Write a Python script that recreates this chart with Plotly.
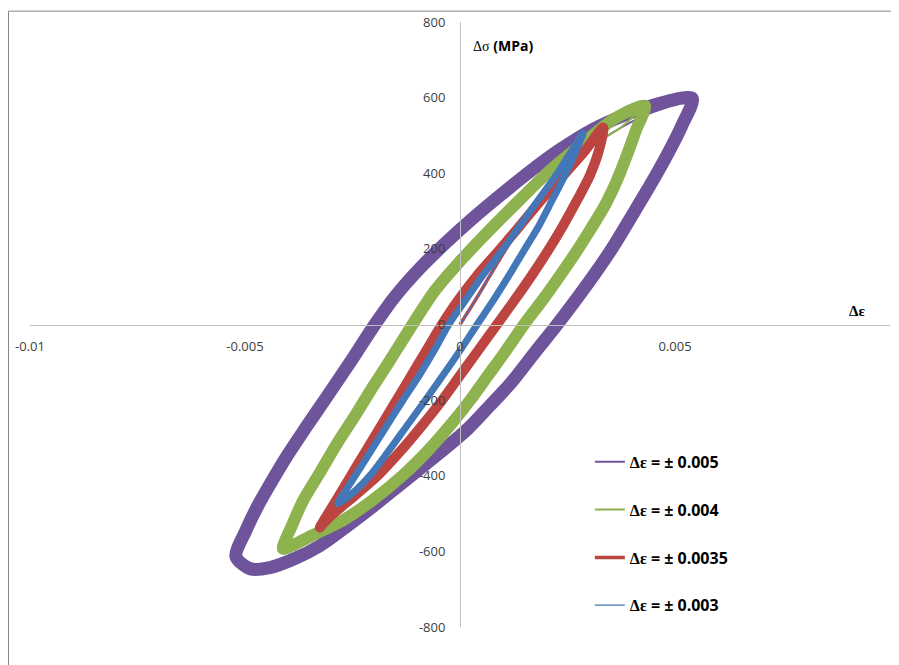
import plotly.graph_objects as go

# ---------------- data (strain, stress in MPa) ----------------
series_names = ["Δε = ± 0.005", "Δε = ± 0.004", "Δε = ± 0.0035", "Δε = ± 0.003"]
series_colors = ["#6F549B", "#8DB24E", "#BC4542", "#4377B8"]

# first (monotonic) loading curve from the origin
initial_strain = [0, 0.00035, 0.00070, 0.00105, 0.00140, 0.00174, 0.00209, 0.00244,
                  0.00286, 0.00326, 0.00372, 0.00430, 0.00488, 0.00535]
initial_stress = [0, 63, 130, 196, 259, 317, 370, 413, 455, 487, 519, 553, 577, 593]

# stabilised loops: ascending branch (bottom tip -> top tip) then descending branch back
loop_005_strain = [-0.00521, -0.00498, -0.00470, -0.00437, -0.00402, -0.00360, -0.00309, -0.00256,
                   -0.00198, -0.00151, -0.00093, -0.00035, 0.00023, 0.00093, 0.00163, 0.00233,
                   0.00309, 0.00388, 0.00465, 0.00540,
                   0.00516, 0.00481, 0.00442, 0.00400, 0.00358, 0.00316, 0.00272, 0.00226, 0.00174,
                   0.00121, 0.00070, 0.00019, -0.00035, -0.00093, -0.00151, -0.00209, -0.00267,
                   -0.00326, -0.00384, -0.00442, -0.00488, -0.00521]
loop_005_stress = [-614, -545, -479, -413, -347, -275, -190, -101,
                   0, 74, 149, 214, 274, 341, 405, 463,
                   516, 556, 585, 598,
                   526, 447, 368, 288, 209, 138, 69, 0, -74,
                   -151, -214, -275, -328, -381, -434, -487, -537,
                   -585, -619, -643, -646, -614]

loop_004_strain = [-0.00412, -0.00391, -0.00365, -0.00326, -0.00286, -0.00244, -0.00205, -0.00163,
                   -0.00121, -0.00058, 0.0, 0.00063, 0.00133, 0.00209, 0.00291, 0.00360, 0.00430,
                   0.00409, 0.00388, 0.00365, 0.00337, 0.00302, 0.00265, 0.00233, 0.00191, 0.00149,
                   0.00107, 0.00065, 0.00023, -0.00023, -0.00074, -0.00133, -0.00205, -0.00274,
                   -0.00344, -0.00391, -0.00412]
loop_004_stress = [-593, -532, -466, -392, -315, -241, -169, -95,
                   -19, 90, 167, 243, 323, 407, 484, 545, 579,
                   513, 447, 381, 315, 249, 183, 130, 63, 0,
                   -69, -135, -201, -267, -333, -399, -466, -519,
                   -558, -585, -593]

loop_0035_strain = [-0.00326, -0.00284, -0.00242, -0.00200, -0.00158, -0.00116, -0.00077, -0.00042,
                    -0.00005, 0.00040, 0.00091, 0.00140, 0.00188, 0.00240, 0.00291, 0.00333,
                    0.00323, 0.00302, 0.00272, 0.00240, 0.00205, 0.00167, 0.00126, 0.00086, 0.00042,
                    0.0, -0.00042, -0.00088, -0.00137, -0.00191, -0.00244, -0.00286, -0.00312,
                    -0.00326]
loop_0035_stress = [-537, -458, -378, -299, -220, -140, -66, 0,
                    63, 130, 196, 262, 328, 394, 460, 521,
                    460, 394, 328, 262, 196, 130, 63, 0, -69,
                    -135, -201, -267, -333, -399, -452, -492, -519,
                    -537]

loop_003_strain = [-0.00284, -0.00251, -0.00214, -0.00177, -0.00133, -0.00095, -0.00060, -0.00026,
                   0.00012, 0.00053, 0.00098, 0.00140, 0.00181, 0.00223, 0.00260, 0.00286,
                   0.00270, 0.00244, 0.00214, 0.00184, 0.00149, 0.00114, 0.00077, 0.00040, 0.0,
                   -0.00040, -0.00081, -0.00123, -0.00165, -0.00209, -0.00256, -0.00284]
loop_003_stress = [-474, -413, -347, -280, -201, -135, -69, 0,
                   63, 130, 196, 262, 328, 394, 460, 505,
                   460, 394, 328, 262, 196, 130, 63, 0, -69,
                   -135, -201, -267, -333, -399, -452, -474]

loops_strain = [loop_005_strain, loop_004_strain, loop_0035_strain, loop_003_strain]
loops_stress = [loop_005_stress, loop_004_stress, loop_0035_stress, loop_003_stress]

x_tickvals = [-0.01, -0.005, 0, 0.005, 0.01]
x_ticktext = ["-0.01", "-0.005", "0", "0.005", "0.01"]
y_tickvals = [-800, -600, -400, -200, 0, 200, 400, 600, 800]
y_ticktext = ["-800", "-600", "-400", "-200", "0", "200", "400", "600", "800"]

# ---------------- styles ----------------
loop_widths = [13, 12, 10, 7]
legend_widths = [2, 2, 3.5, 1.2]
FONT = "Open Sans"
GREEK = "Liberation Serif"

fig = go.Figure()

for i in range(4):
    amp = max(loops_strain[i])
    tip_idx = loops_strain[i].index(amp)
    keep = [k for k, s in enumerate(initial_strain) if s < amp - 1e-4]
    xs = [initial_strain[k] for k in keep] + [amp]
    ys = [initial_stress[k] for k in keep] + [loops_stress[i][tip_idx]]
    # stabilised cycles (thick band)
    fig.add_trace(go.Scatter(
        x=loops_strain[i], y=loops_stress[i], mode="lines",
        line=dict(color=series_colors[i], width=loop_widths[i], shape="spline", smoothing=0.8),
        legendgroup=f"g{i}", showlegend=False, hoverinfo="skip"))
    # first loading (thin) - carries the legend entry
    fig.add_trace(go.Scatter(
        x=xs, y=ys, mode="lines",
        line=dict(color=series_colors[i], width=legend_widths[i], shape="spline", smoothing=0.8),
        name=series_names[i].replace("Δε", f"<span style='font-family:{GREEK}'>Δε</span>"),
        legendgroup=f"g{i}", showlegend=True, hoverinfo="skip"))

axis_common = dict(showgrid=False, zeroline=False, showline=True, linecolor="#bfbfbf",
                   linewidth=1, ticks="", automargin=False,
                   tickfont=dict(family=FONT, size=13, color="#404040"))

fig.update_layout(
    width=891, height=657,
    margin=dict(l=22, r=9, t=14, b=38),
    paper_bgcolor="white", plot_bgcolor="white",
    xaxis=dict(range=[-0.01, 0.01], tickvals=x_tickvals, ticktext=x_ticktext,
               anchor="free", position=0.5, ticklabelstandoff=10, **axis_common),
    yaxis=dict(range=[-800, 800], tickvals=y_tickvals, ticktext=y_ticktext,
               anchor="free", position=0.5, ticklabelstandoff=12, **axis_common),
    legend=dict(x=0.651, y=0.301, xanchor="left", yanchor="top",
                font=dict(family=FONT, size=16, color="black", weight="bold"),
                tracegroupgap=24, bgcolor="rgba(0,0,0,0)"),
    showlegend=True,
    shapes=[dict(type="rect", xref="paper", yref="paper", x0=-0.025, x1=1.02, y0=-0.08, y1=1.018,
                 line=dict(color="#878787", width=1), fillcolor="rgba(0,0,0,0)", layer="below")],
    annotations=[
        dict(x=0.00026, y=738, xref="x", yref="y", xanchor="left", yanchor="middle",
             text=f"<span style='font-family:{GREEK}'>Δσ</span> <b>(MPa)</b>", showarrow=False,
             font=dict(family=FONT, size=14, color="black")),
        dict(x=0.00923, y=37, xref="x", yref="y", xanchor="center", yanchor="middle",
             text=f"<span style='font-family:{GREEK}'><b>Δε</b></span>", showarrow=False,
             font=dict(family=FONT, size=15, color="black")),
    ],
)

fig.write_html("out.html")
